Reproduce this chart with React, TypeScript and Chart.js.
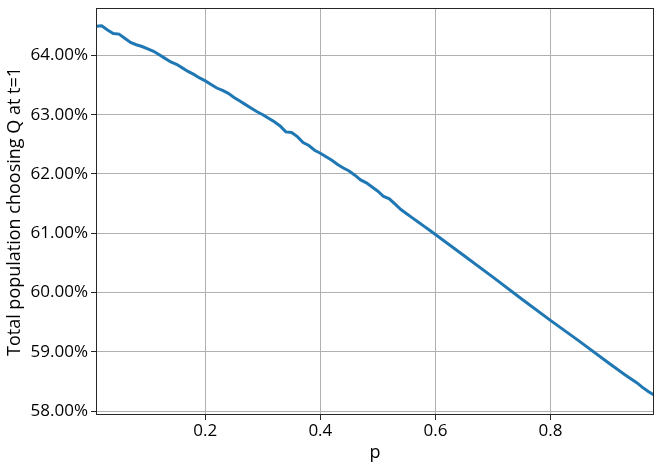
import React, { useEffect, useRef } from "react";
import { Chart, registerables } from "chart.js";

Chart.register(...registerables);

const pValues: number[] = [
  0.01, 0.02, 0.03, 0.04, 0.05, 0.06, 0.07, 0.08, 0.09, 0.1,
  0.11, 0.12, 0.13, 0.14, 0.15, 0.16, 0.17, 0.18, 0.19, 0.2,
  0.21, 0.22, 0.23, 0.24, 0.25, 0.26, 0.27, 0.28, 0.29, 0.3,
  0.31, 0.32, 0.33, 0.34, 0.35, 0.36, 0.37, 0.38, 0.39, 0.4,
  0.41, 0.42, 0.43, 0.44, 0.45, 0.46, 0.47, 0.48, 0.49, 0.5,
  0.51, 0.52, 0.53, 0.54, 0.55, 0.56, 0.57, 0.58, 0.59, 0.6,
  0.65, 0.7, 0.75, 0.8, 0.85, 0.9, 0.93, 0.95, 0.96, 0.97, 0.98,
];

const shareQ: number[] = [
  64.49, 64.5, 64.43, 64.37, 64.36, 64.29, 64.22, 64.18, 64.15, 64.11,
  64.07, 64.01, 63.95, 63.89, 63.85, 63.79, 63.73, 63.68, 63.62, 63.57,
  63.51, 63.45, 63.41, 63.36, 63.29, 63.23, 63.17, 63.11, 63.05, 63.0,
  62.94, 62.88, 62.81, 62.71, 62.7, 62.63, 62.53, 62.48, 62.4, 62.35,
  62.29, 62.23, 62.16, 62.1, 62.05, 61.98, 61.9, 61.85, 61.78, 61.71,
  61.62, 61.58, 61.49, 61.4, 61.33, 61.26, 61.19, 61.12, 61.05, 60.98,
  60.62, 60.26, 59.89, 59.53, 59.18, 58.82, 58.61, 58.48, 58.4, 58.33, 58.27,
];

const xTicks: number[] = [0.2, 0.4, 0.6, 0.8];
const yTicks: number[] = [58, 59, 60, 61, 62, 63, 64];

const xTitle = "p";
const yTitle = "Total population choosing Q at t=1";

const FONT = "'Open Sans', 'Liberation Sans', sans-serif";

const framePlugin = {
  id: "frame",
  afterDatasetsDraw(chart: any) {
    const { ctx, chartArea } = chart;
    ctx.save();
    ctx.strokeStyle = "#262626";
    ctx.lineWidth = 1;
    ctx.strokeRect(
      Math.round(chartArea.left) + 0.5,
      Math.round(chartArea.top) + 0.5,
      Math.round(chartArea.right - chartArea.left) - 1,
      Math.round(chartArea.bottom - chartArea.top) - 1
    );
    ctx.restore();
  },
};

const noPad = (scale: any) => {
  scale.paddingTop = 0;
  scale.paddingBottom = 0;
  scale.paddingLeft = 0;
  scale.paddingRight = 0;
};

export default function App() {
  const canvasRef = useRef<HTMLCanvasElement | null>(null);

  useEffect(() => {
    if (!canvasRef.current) return;
    const data = pValues.map((p, i) => ({ x: p, y: shareQ[i] }));
    const chart = new Chart(canvasRef.current, {
      type: "line",
      data: {
        datasets: [
          {
            data,
            borderColor: "#1f77b4",
            borderWidth: 3,
            pointRadius: 0,
            tension: 0,
            fill: false,
          },
        ],
      },
      options: {
        responsive: false,
        animation: false,
        layout: { padding: { top: 8, right: 7, left: 0, bottom: 0 } },
        plugins: {
          legend: { display: false },
          tooltip: { enabled: false },
        },
        scales: {
          x: {
            type: "linear",
            min: 0.01,
            max: 0.98,
            afterFit: (scale: any) => {
              scale.height = 54;
              noPad(scale);
            },
            afterBuildTicks: (scale: any) => {
              scale.ticks = xTicks.map((v) => ({ value: v }));
            },
            border: { display: false },
            grid: {
              color: "#b0b0b0",
              lineWidth: 1,
              tickColor: "#262626",
              tickLength: 5,
              drawTicks: true,
            },
            ticks: {
              color: "#000",
              font: { family: FONT, size: 17 },
              padding: 1,
              maxRotation: 0,
              callback: (v: any) => String(Number(v).toFixed(1)),
            },
            title: {
              display: true,
              text: xTitle,
              color: "#000",
              font: { family: FONT, size: 18 },
              padding: { top: 0, bottom: 5 },
            },
          },
          y: {
            type: "linear",
            min: 57.934,
            max: 64.8,
            afterFit: (scale: any) => {
              scale.width = 96;
              noPad(scale);
            },
            afterBuildTicks: (scale: any) => {
              scale.ticks = yTicks.map((v) => ({ value: v }));
            },
            border: { display: false },
            grid: {
              color: "#b0b0b0",
              lineWidth: 1,
              tickColor: "#262626",
              tickLength: 5,
              drawTicks: true,
            },
            ticks: {
              color: "#000",
              font: { family: FONT, size: 17 },
              padding: 3,
              callback: (v: any) => Number(v).toFixed(2) + "%",
            },
            title: {
              display: true,
              text: yTitle,
              color: "#000",
              font: { family: FONT, size: 18 },
              padding: { top: 4, bottom: 0 },
            },
          },
        },
      },
      plugins: [framePlugin],
    });
    return () => chart.destroy();
  }, []);

  return (
    <div style={{ position: "fixed", left: 0, top: 0, width: 661, height: 469, background: "#fff" }}>
      <canvas ref={canvasRef} width={661} height={469} style={{ width: 661, height: 469 }} />
    </div>
  );
}
